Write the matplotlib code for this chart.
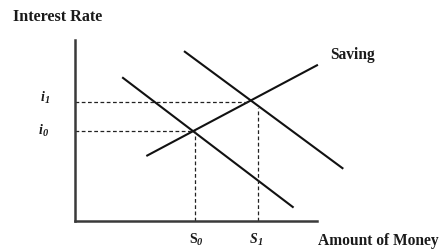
import matplotlib
matplotlib.use("Agg")
import matplotlib.pyplot as plt

plt.rcParams['font.family'] = ['Liberation Serif', 'DejaVu Serif']

# Curves (amount of money, interest rate) in arbitrary units
saving_x = [3.0, 10.0]
saving_y = [3.6, 8.6]
invest0_x = [2.0, 9.0]
invest0_y = [7.9, 0.75]
invest1_x = [4.55, 11.05]
invest1_y = [9.35, 2.9]

# Equilibria
i_vals = [4.96, 6.57]
i_ends = [4.92, 7.22]
s_vals = [4.96, 7.55]
s_tops = [4.96, 6.23]
i_labels = [("i", "0"), ("i", "1")]
s_labels = [("S", "0", 'normal'), ("S", "1", 'italic')]

W, H = 440, 252
fig = plt.figure(figsize=(W/100, H/100), dpi=100)
x0, y0, x1, y1 = 74.5, 220.5, 317, 40
ax = fig.add_axes([x0/W, 1 - y0/H, (x1 - x0)/W, (y0 - y1)/H])
ax.set_xlim(0, 10)
ax.set_ylim(0, 10)
for s in ['top', 'right']:
    ax.spines[s].set_visible(False)
for s in ['left', 'bottom']:
    ax.spines[s].set_linewidth(1.8)
    ax.spines[s].set_color('#3a3a3a')
ax.set_xticks([])
ax.set_yticks([])

lw = 1.5
ax.plot(saving_x, saving_y, color='#111111', lw=lw, clip_on=False)
ax.plot(invest0_x, invest0_y, color='#111111', lw=lw, clip_on=False)
ax.plot(invest1_x, invest1_y, color='#111111', lw=lw, clip_on=False)

for iv, ie in zip(i_vals, i_ends):
    ax.plot([0, ie], [iv, iv], color='#222222', lw=0.9, ls=(0, (3, 2)), clip_on=False)
for sv, st in zip(s_vals, s_tops):
    ax.plot([sv, sv], [0, st], color='#222222', lw=0.9, ls=(0, (3, 2)), clip_on=False)

tc = '#1a1a1a'
fig.text(13/W, 1 - 17/H, "Interest Rate", fontsize=11.6, fontweight='bold',
         ha='left', va='center', color=tc)
fig.text(330/W, 1 - 55/H, "Saving", fontsize=11.2, fontweight='bold',
         ha='left', va='center', color=tc)
fig.text(318/W, 1 - 241/H, "Amount of Money", fontsize=11.2, fontweight='bold',
         ha='left', va='center', color=tc)

def sub_label(px, py, main, sub, style):
    fig.text((px - 1)/W, 1 - py/H, main, fontsize=10, fontweight='bold', fontstyle=style,
             ha='right', va='baseline', color=tc)
    fig.text((px - 1)/W, 1 - (py + 2)/H, sub, fontsize=7.5, fontweight='bold', fontstyle='italic',
             ha='left', va='baseline', color=tc)

i_label_px = [(44, 134), (46, 101)]
for (m, s), (px, py) in zip(i_labels, i_label_px):
    sub_label(px, py, m, s, 'italic')
s_label_px = [(198, 243), (259, 243)]
for (m, s, st), (px, py) in zip(s_labels, s_label_px):
    sub_label(px, py, m, s, st)

fig.savefig("out.png", dpi=100)
